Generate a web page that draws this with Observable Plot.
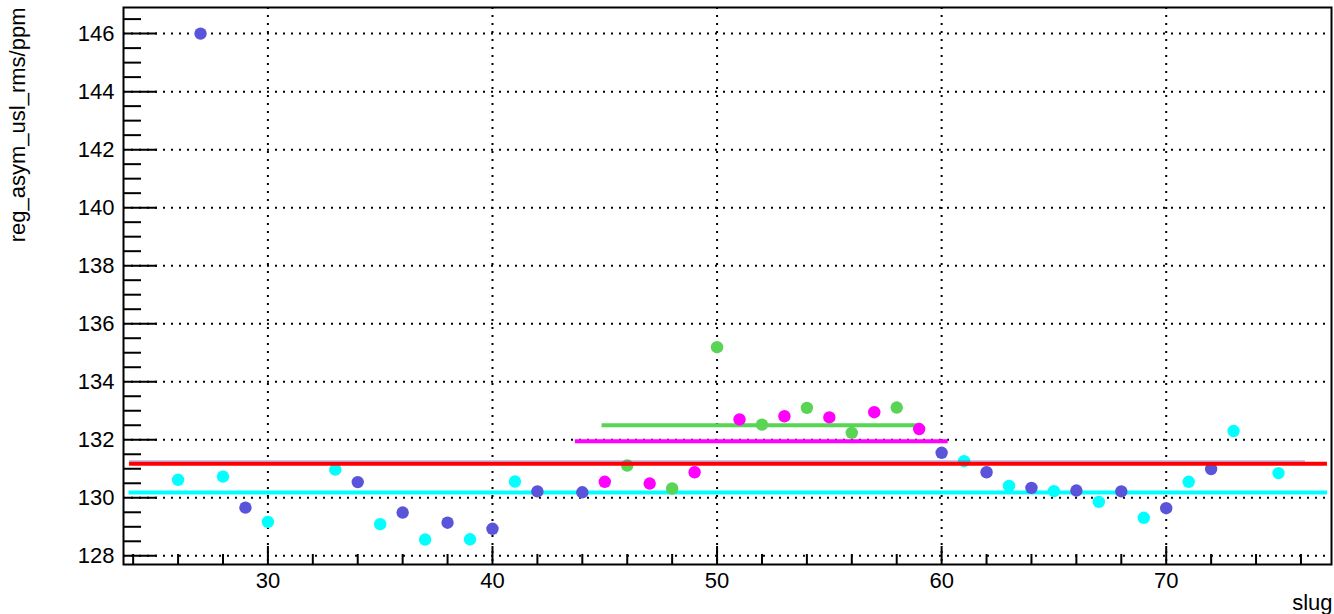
<!DOCTYPE html>
<html>
<head>
<meta charset="utf-8">
<script src="https://cdn.jsdelivr.net/npm/d3@7"></script>
<script src="https://cdn.jsdelivr.net/npm/@observablehq/plot@0.6"></script>
<style>
  html, body { margin: 0; padding: 0; background: #fff; }
  #chart { width: 1334px; height: 614px; }
</style>
</head>
<body>
<div id="chart"></div>
<script>
// ---- data ----
const blueSlug  = [27, 29, 34, 36, 38, 40, 42, 44, 60, 62, 64, 66, 68, 70, 72];
const blueVal   = [146.0, 129.66, 130.54, 129.49, 129.14, 128.93, 130.22, 130.19, 131.55, 130.88, 130.34, 130.25, 130.22, 129.64, 130.99];
const cyanSlug  = [26, 28, 30, 33, 35, 37, 39, 41, 61, 63, 65, 67, 69, 71, 73, 75];
const cyanVal   = [130.62, 130.73, 129.17, 130.97, 129.09, 128.56, 128.57, 130.56, 131.26, 130.41, 130.23, 129.86, 129.31, 130.55, 132.30, 130.85];
const magSlug   = [45, 47, 49, 51, 53, 55, 57, 59];
const magVal    = [130.55, 130.49, 130.88, 132.70, 132.81, 132.77, 132.95, 132.37];
const greenSlug = [46, 48, 50, 52, 54, 56, 58];
const greenVal  = [131.11, 130.32, 135.19, 132.52, 133.10, 132.24, 133.11];

// mean lines
const lineNames = ["cyan", "green", "magenta", "blue", "red"];
const lineValue = [130.18, 132.50, 131.95, 131.23, 131.17];
const lineStart = [23.82, 44.88, 43.69, 23.84, 23.84];
const lineEnd   = [77.18, 59.0, 60.29, 76.2, 77.18];

// axes
const xMajor = [30, 40, 50, 60, 70];
const yMajor = [128, 130, 132, 134, 136, 138, 140, 142, 144, 146];
const xDomain = [23.57, 77.36];
const yDomain = [127.7, 146.9];
const xTitle = "slug";
const yTitle = "reg_asym_usl_rms/ppm";

// ---- styles ----
const colors = {blue: "#5954d9", cyan: "#00ffff", magenta: "#ff00ff", green: "#59d454", red: "#ff0000"};
const lineOpacity = {cyan: 1, green: 1, magenta: 1, blue: 0.35, red: 1};

const xMinor = d3.range(24, 77, 2).filter(v => !xMajor.includes(v));
const yMinor = d3.range(128, 147, 0.5).filter(v => !yMajor.includes(v));

const pts = [];
const addGroup = (s, v, g) => s.forEach((x, i) => pts.push({slug: x, val: v[i], g}));
addGroup(cyanSlug, cyanVal, "cyan");
addGroup(blueSlug, blueVal, "blue");
addGroup(greenSlug, greenVal, "green");
addGroup(magSlug, magVal, "magenta");

const lines = lineNames.map((n, i) => ({n, v: lineValue[i], x1: lineStart[i], x2: lineEnd[i]}));
const under = lines.filter(d => d.n === "cyan" || d.n === "green" || d.n === "magenta");
const over = lines.filter(d => d.n === "blue" || d.n === "red");

const gridStyle = {stroke: "black", strokeOpacity: 1, strokeWidth: 2, strokeDasharray: "2,6"};

const chart = Plot.plot({
  width: 1334,
  height: 614,
  marginLeft: 123,
  marginRight: 3,
  marginTop: 7,
  marginBottom: 50,
  style: {fontFamily: "'Liberation Sans', Arial, Helvetica, sans-serif", background: "white", color: "black"},
  x: {domain: xDomain, axis: null},
  y: {domain: yDomain, axis: null},
  marks: [
    Plot.gridX(xMajor, gridStyle),
    Plot.gridY(yMajor, gridStyle),
    Plot.ruleY(under, {y: "v", x1: "x1", x2: "x2", stroke: d => colors[d.n], strokeWidth: 4}),
    Plot.dot(pts, {x: "slug", y: "val", r: 6.2, fill: d => colors[d.g], stroke: "none"}),
    Plot.ruleY(over, {y: "v", x1: "x1", x2: "x2", stroke: d => colors[d.n], strokeOpacity: d => lineOpacity[d.n], strokeWidth: 4}),
    // tick marks (inward, ROOT style)
    Plot.axisY(yMajor, {anchor: "left", tickSize: 34, dx: 34, text: null, label: null, strokeWidth: 2}),
    Plot.axisY(yMinor, {anchor: "left", tickSize: 18, dx: 18, text: null, label: null, strokeWidth: 2}),
    Plot.axisX(xMajor, {anchor: "bottom", tickSize: 18, dy: -18, text: null, label: null, strokeWidth: 2}),
    Plot.axisX(xMinor, {anchor: "bottom", tickSize: 10, dy: -10, text: null, label: null, strokeWidth: 2}),
    // tick labels
    Plot.axisY(yMajor, {anchor: "left", tickSize: 0, tickPadding: 9, fontSize: 22, label: null}),
    Plot.axisX(xMajor, {anchor: "bottom", tickSize: 0, tickPadding: 8, fontSize: 22, label: null}),
    Plot.frame({stroke: "black", strokeWidth: 2}),
    // axis titles
    Plot.text([xTitle], {frameAnchor: "bottom-right", text: d => d, textAnchor: "end", lineAnchor: "bottom", dy: 45, dx: 1, fontSize: 22, fill: "black"}),
    Plot.text([yTitle], {frameAnchor: "top-left", text: d => d, textAnchor: "end", lineAnchor: "bottom", rotate: -90, dx: -99, dy: 0, fontSize: 22, fill: "black"})
  ]
});
document.getElementById("chart").appendChild(chart);
</script>
</body>
</html>
